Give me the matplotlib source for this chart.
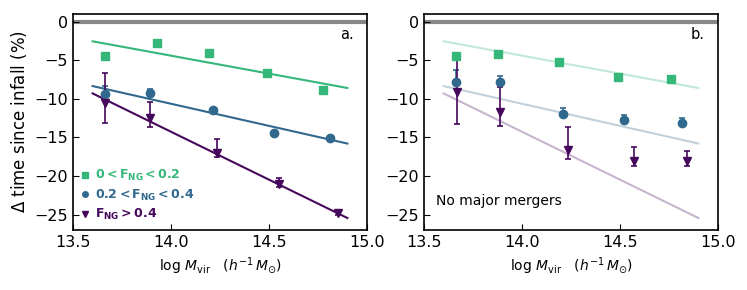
import numpy as np
import matplotlib
matplotlib.use('Agg')
import matplotlib.pyplot as plt
from matplotlib.lines import Line2D

# colours (viridis-ish)
c_lo = '#35b779'
c_mid = '#31688e'
c_hi = '#46085c'

labels = [r'$\mathbf{0<F_{NG}<0.2}$',
          r'$\mathbf{0.2<F_{NG}<0.4}$',
          r'$\mathbf{F_{NG}>0.4}$']

# panel a: all groups
a_lo_x = [13.665, 13.929, 14.192, 14.49, 14.776]
a_lo_y = [-4.4, -2.8, -4.05, -6.6, -8.9]
a_mid_x = [13.665, 13.895, 14.213, 14.524, 14.813]
a_mid_y = [-9.4, -9.2, -11.45, -14.45, -15.1]
a_mid_up = [1.0, 0.5, 0.3, 0.2, 0.3]
a_mid_dn = [0.3, 0.3, 0.3, 0.2, 0.3]
a_hi_x = [13.665, 13.895, 14.235, 14.549, 14.85]
a_hi_y = [-10.6, -12.5, -17.0, -21.0, -24.8]
a_hi_up = [4.0, 2.1, 1.8, 0.8, 0.4]
a_hi_dn = [2.6, 1.1, 0.5, 0.4, 0.3]

# panel b: no major mergers
b_lo_x = [13.665, 13.878, 14.189, 14.49, 14.762]
b_lo_y = [-4.5, -4.25, -5.25, -7.15, -7.45]
b_lo_up = [0.2, 0.2, 0.2, 0.2, 0.4]
b_lo_dn = [0.2, 0.2, 0.2, 0.2, 0.3]
b_mid_x = [13.665, 13.886, 14.21, 14.518, 14.816]
b_mid_y = [-7.8, -7.8, -12.0, -12.8, -13.1]
b_mid_up = [1.5, 0.8, 0.8, 0.7, 0.6]
b_mid_dn = [0.4, 0.3, 0.3, 0.3, 0.3]
b_hi_x = [13.67, 13.886, 14.235, 14.57, 14.84]
b_hi_y = [-9.1, -11.7, -16.6, -18.1, -18.1]
b_hi_up = [4.5, 3.2, 2.9, 1.9, 1.3]
b_hi_dn = [4.15, 1.8, 1.2, 0.6, 0.6]

# linear fits (from panel a)
fit_x = [13.6, 14.9]
fit_lo = [-2.55, -8.6]
fit_mid = [-8.35, -15.8]
fit_hi = [-9.3, -25.45]

plt.rcParams['font.size'] = 10
fig = plt.figure(figsize=(7.47, 2.9), dpi=100)
axa = fig.add_axes([0.0977, 0.207, 0.3936, 0.745])
axb = fig.add_axes([0.5676, 0.207, 0.3936, 0.745])

for ax, alpha in [(axa, 1.0), (axb, 0.3)]:
    ax.axhline(0, color='#888888', lw=3, zorder=0)
    ax.plot(fit_x, fit_lo, color=c_lo, lw=1.5, alpha=alpha)
    ax.plot(fit_x, fit_mid, color=c_mid, lw=1.5, alpha=alpha)
    ax.plot(fit_x, fit_hi, color=c_hi, lw=1.5, alpha=alpha)

ekw = dict(ls='none', capsize=2, elinewidth=1.2, capthick=1.2, ms=6)
axa.errorbar(a_lo_x, a_lo_y, marker='s', color=c_lo, **ekw)
axa.errorbar(a_mid_x, a_mid_y, yerr=[a_mid_dn, a_mid_up], marker='o', color=c_mid, **ekw)
axa.errorbar(a_hi_x, a_hi_y, yerr=[a_hi_dn, a_hi_up], marker='v', color=c_hi, **ekw)

axb.errorbar(b_lo_x, b_lo_y, yerr=[b_lo_dn, b_lo_up], marker='s', color=c_lo, **ekw)
axb.errorbar(b_mid_x, b_mid_y, yerr=[b_mid_dn, b_mid_up], marker='o', color=c_mid, **ekw)
axb.errorbar(b_hi_x, b_hi_y, yerr=[b_hi_dn, b_hi_up], marker='v', color=c_hi, **ekw)

handles = [Line2D([], [], ls='none', marker=m, color=c, ms=4)
           for m, c in zip(['s', 'o', 'v'], [c_lo, c_mid, c_hi])]
leg = axa.legend(handles, labels, loc='lower left', frameon=False, handlelength=0.6,
                 handletextpad=0.5, labelspacing=0.35, borderaxespad=0.3,
                 bbox_to_anchor=(0.0, -0.005), fontsize=9)
for txt, col in zip(leg.get_texts(), [c_lo, c_mid, c_hi]):
    txt.set_color(col)

axa.text(0.955, 0.885, 'a.', transform=axa.transAxes, ha='right', fontsize=10.5)
axb.text(0.955, 0.885, 'b.', transform=axb.transAxes, ha='right', fontsize=10.5)
axb.text(0.04, 0.115, 'No major mergers', transform=axb.transAxes, fontsize=10)

for ax in (axa, axb):
    ax.set_xlim(13.5, 15.0)
    ax.set_ylim(-27, 1)
    ax.set_xticks([13.5, 14.0, 14.5, 15.0])
    ax.set_yticks([0, -5, -10, -15, -20, -25])
    ax.tick_params(direction='in', length=4, labelsize=11.5)
    ax.set_xlabel(r'$\log\,M_{\rm vir}\quad(h^{-1}\,M_{\odot})$', fontsize=10)
    for s in ax.spines.values():
        s.set_linewidth(1.2)
axa.set_ylabel(r'$\Delta$ time since infall (%)', fontsize=12)

fig.savefig('out.png', dpi=100)
